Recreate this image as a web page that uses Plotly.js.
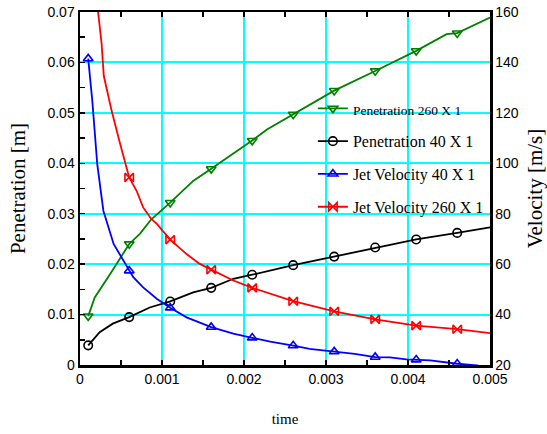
<!DOCTYPE html>
<html>
<head>
<meta charset="utf-8">
<script src="https://cdn.plot.ly/plotly-3.0.1.min.js"></script>
<style>html,body{margin:0;padding:0;background:#fff;}#chart{width:547px;height:434px;}</style>
</head>
<body>
<div id="chart"></div>
<script>
// ---- data ----
var seriesNames = ["Penetration 260 X 1", "Penetration 40 X 1", "Jet Velocity 40 X 1", "Jet Velocity 260 X 1"];
var markerTimes = [0.0001, 0.0006, 0.0011, 0.0016, 0.0021, 0.0026, 0.0031, 0.0036, 0.0041, 0.0046];

// Penetration 260 X 1  [m]
var pen260T = [0.0001, 0.00018, 0.00037, 0.0006, 0.00073, 0.00087, 0.0011, 0.00138, 0.0016, 0.00187, 0.0021, 0.00228, 0.0026, 0.0031, 0.0036, 0.0041, 0.00447, 0.0046, 0.005];
var pen260V = [0.0097, 0.0134, 0.0181, 0.0240, 0.0260, 0.0289, 0.0322, 0.0365, 0.0389, 0.0419, 0.0445, 0.0467, 0.0497, 0.0544, 0.0583, 0.0623, 0.0656, 0.0658, 0.0689];

// Penetration 40 X 1  [m]
var pen40T = [0.0001, 0.00024, 0.0004, 0.0006, 0.00085, 0.0011, 0.00138, 0.0016, 0.00187, 0.0021, 0.0026, 0.0031, 0.0036, 0.0041, 0.0046, 0.005];
var pen40V = [0.0039, 0.0065, 0.0082, 0.0095, 0.0114, 0.0126, 0.0144, 0.0153, 0.0171, 0.0179, 0.0198, 0.0215, 0.0233, 0.0249, 0.0262, 0.0273];

// Jet Velocity 40 X 1  [m/s]
var vel40T = [0.0001, 0.00015, 0.00021, 0.000285, 0.00041, 0.0006, 0.00065, 0.00077, 0.00094, 0.0011, 0.0013, 0.0016, 0.00187, 0.0021, 0.00232, 0.0026, 0.0028, 0.0031, 0.00335, 0.0036, 0.00378, 0.00398, 0.0041, 0.00427, 0.0046, 0.00484, 0.005];
var vel40V = [141.5, 124.8, 99.8, 81.2, 68.0, 57.4, 54.8, 50.8, 46.2, 42.7, 38.9, 35.0, 32.4, 30.8, 29.3, 27.7, 26.4, 25.3, 24.4, 23.1, 23.0, 22.2, 22.1, 21.8, 20.5, 19.8, 19.0];

// Jet Velocity 260 X 1  [m/s]
var vel260T = [0.00018, 0.000264, 0.00029, 0.000386, 0.00049, 0.0006, 0.00069, 0.00077, 0.00087, 0.00094, 0.0011, 0.0013, 0.00146, 0.0016, 0.00187, 0.0021, 0.00232, 0.0026, 0.0031, 0.0036, 0.0041, 0.0046, 0.005];
var vel260V = [172.0, 147.2, 134.7, 120.8, 107.6, 94.4, 89.1, 82.5, 77.9, 75.9, 69.7, 64.0, 60.1, 57.8, 53.5, 50.6, 48.2, 45.3, 41.3, 38.1, 35.6, 34.2, 32.6];

var xTickVals = [0, 0.001, 0.002, 0.003, 0.004, 0.005];
var xTickText = ["0", "0.001", "0.002", "0.003", "0.004", "0.005"];

// ---- helpers ----
function markerIdx(ts) {
  var out = [];
  ts.forEach(function (t, i) {
    markerTimes.forEach(function (m) { if (Math.abs(t - m) < 1e-9) out.push(i); });
  });
  return out;
}
function mk(t, v, name, color, symbol, yaxis, grp) {
  return {
    x: t, y: v, name: name, yaxis: yaxis, legendgroup: grp,
    type: "scatter", mode: "lines+markers",
    line: {color: color, width: 1.8},
    marker: {symbol: symbol, size: 8.5, color: color, line: {color: color, width: 1.6}},
    selectedpoints: markerIdx(t),
    selected: {marker: {opacity: 1}},
    unselected: {marker: {opacity: 0}},
    cliponaxis: true
  };
}

var traces = [
  mk(pen260T, pen260V, '<span style="font-size:13.5px">' + seriesNames[0] + '</span>', "#008000", "triangle-down-open", "y", "g1"),
  mk(pen40T, pen40V, seriesNames[1], "#000000", "circle-open", "y", "g2"),
  mk(vel40T, vel40V, seriesNames[2], "#0000ff", "triangle-up-open", "y2", "g3"),
  mk(vel260T, vel260V, seriesNames[3], "#ff0000", "bowtie-open", "y2", "g4")
];

var tickFont = {family: "Liberation Sans, Arial, sans-serif", size: 14, color: "#000"};
var xTitleFont = {family: "Liberation Serif, Times New Roman, serif", size: 15, color: "#000"};
var yTitleFont = {family: "Liberation Serif, Times New Roman, serif", size: 21, color: "#000"};

// white boxes behind each legend row (above the grid, below the traces), in pixels of the page
var plotL = 80, plotW = 410, plotT = 12, plotH = 353;
var rowBoxes = [[320, 470, 101, 120], [318, 479, 132, 152], [316, 479, 163, 184], [314, 485, 195, 215]];
var shapes = rowBoxes.map(function (b) {
  return {
    type: "rect", xref: "paper", yref: "paper", layer: "between",
    x0: (b[0] - plotL) / plotW, x1: (b[1] - plotL) / plotW,
    y0: 1 - (b[3] - plotT) / plotH, y1: 1 - (b[2] - plotT) / plotH,
    fillcolor: "#ffffff", line: {width: 0}
  };
});

var layout = {
  width: 547, height: 434,
  margin: {l: 80, r: 57, t: 12, b: 69, pad: 0},
  paper_bgcolor: "#fff", plot_bgcolor: "#fff",
  showlegend: true,
  shapes: shapes,
  legend: {
    x: 0.568, y: 0.775, xanchor: "left", yanchor: "top",
    bgcolor: "rgba(255,255,255,0)", borderwidth: 0,
    font: {family: "Liberation Serif, Times New Roman, serif", size: 16, color: "#000"},
    tracegroupgap: 9, traceorder: "grouped"
  },
  xaxis: {
    range: [0, 0.005], tickmode: "array", tickvals: xTickVals, ticktext: xTickText,
    showgrid: true, gridcolor: "#00ffff", gridwidth: 2,
    zeroline: false, showline: true, linecolor: "#000", linewidth: 2.5, mirror: "allticks",
    ticks: "inside", ticklen: 5, tickwidth: 1.5, tickcolor: "#000",
    minor: {dtick: 0.0005, ticks: "inside", ticklen: 5, tickwidth: 1.5, tickcolor: "#000", showgrid: false},
    tickfont: tickFont,
    title: {text: "time", font: xTitleFont, standoff: 27}
  },
  yaxis: {
    range: [0, 0.07], dtick: 0.01, tick0: 0,
    showgrid: true, gridcolor: "#00ffff", gridwidth: 2,
    zeroline: false, showline: true, linecolor: "#000", linewidth: 2.5,
    ticks: "inside", ticklen: 5, tickwidth: 1.5, tickcolor: "#000",
    minor: {dtick: 0.005, ticks: "inside", ticklen: 5, tickwidth: 1.5, tickcolor: "#000", showgrid: false},
    tickfont: tickFont,
    title: {text: "Penetration [m]", font: yTitleFont, standoff: 16}
  },
  yaxis2: {
    overlaying: "y", side: "right", range: [20, 160], dtick: 20, tick0: 20,
    showgrid: false, zeroline: false, showline: true, linecolor: "#000", linewidth: 2.5,
    ticks: "", tickfont: tickFont,
    title: {text: "Velocity [m/s]", font: yTitleFont, standoff: 14}
  }
};

Plotly.newPlot("chart", traces, layout, {displayModeBar: false, staticPlot: true});
</script>
</body>
</html>
